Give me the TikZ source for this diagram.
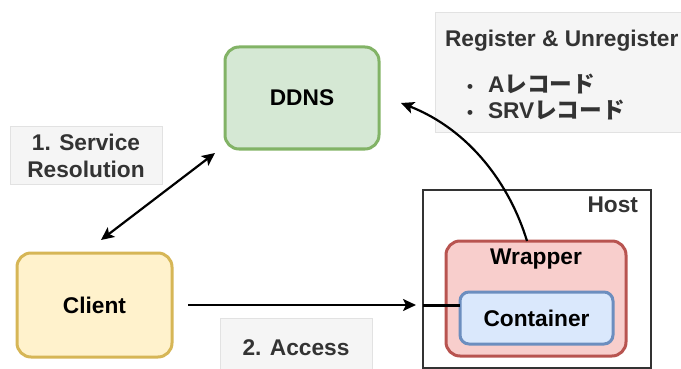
\documentclass[tikz,border=0pt]{standalone}
\usepackage{fontspec}
\setmainfont{Liberation Sans}
\newfontfamily\jpb{Noto Sans CJK JP Bold}
\usetikzlibrary{arrows.meta}

\definecolor{ddnsfill}{HTML}{D5E8D4}
\definecolor{ddnsline}{HTML}{82B366}
\definecolor{clientfill}{HTML}{FFF2CC}
\definecolor{clientline}{HTML}{D6B656}
\definecolor{wrapfill}{HTML}{F8CECC}
\definecolor{wrapline}{HTML}{B85450}
\definecolor{contfill}{HTML}{DAE8FC}
\definecolor{contline}{HTML}{6C8EBF}
\definecolor{notefill}{HTML}{F5F5F5}
\definecolor{noteline}{HTML}{E2E2E2}
\definecolor{notetext}{HTML}{333333}

\begin{document}
\begin{tikzpicture}[x=1pt, y=-1pt,
  every node/.style={inner sep=0pt, outer sep=0pt,
    font=\fontsize{22.7}{28}\selectfont\bfseries},
  box/.style={draw, line width=3pt, rounded corners=14pt},
  note/.style={fill=notefill, draw=noteline, line width=1pt},
  notetxt/.style={text=notetext, align=center},
  arr/.style={line width=2.2pt, -{Stealth[length=13pt, width=12pt, inset=3pt]}},
  darr/.style={line width=2.2pt, {Stealth[length=13pt, width=12pt, inset=3pt]}-{Stealth[length=13pt, width=12pt, inset=3pt]}}
]
\useasboundingbox (0,0) rectangle (681,369);

% grey note panels
\path[note] (10,127) rectangle (162,184);
\path[note] (220,318) rectangle (372,372);
\path[note] (435,13) rectangle (684,133);

\node[notetxt, anchor=base] (n1a) at (86,150) {1. Service};
\node[notetxt, anchor=base] (n1b) at (86,178) {Resolution};
\node[notetxt, anchor=base] (n2) at (296,355) {2. Access};
\node[notetxt, anchor=base west] (reg) at (445,47) {Register \& Unregister};
\node[notetxt, anchor=base west] (recA) at (467,93)
  {\makebox[21pt][l]{\fontsize{17}{17}\selectfont\textbullet}A{\jpb レコード}};
\node[notetxt, anchor=base west] (recS) at (467,119)
  {\makebox[21pt][l]{\fontsize{17}{17}\selectfont\textbullet}SRV{\jpb レコード}};

% host frame
\node[draw=black!80, line width=1.2pt, minimum width=228pt, minimum height=178pt]
  (host) at (537,279) {};
\node[text=notetext, anchor=base east] (hostlbl) at (638,212) {Host};

% main boxes
\node[box, draw=ddnsline, fill=ddnsfill, minimum width=154pt, minimum height=102pt]
  (ddns) at (302,98) {DDNS};
\node[box, draw=clientline, fill=clientfill, minimum width=155pt, minimum height=104pt]
  (client) at (94.5,305) {Client};
\node[box, draw=wrapline, fill=wrapfill, minimum width=180pt, minimum height=115pt]
  (wrapper) at (536,298.5) {};
\node[anchor=base] (wraplbl) at (536,264) {Wrapper};
\node[box, draw=contline, fill=contfill, rounded corners=9pt,
  minimum width=153pt, minimum height=52pt] (container) at (536.5,318) {Container};

% connector end points
\coordinate (srClient) at (101,240);
\coordinate (srDdns) at (215,153);
\coordinate (wtop) at (527,241);
\coordinate (ddnsTip) at (401,103);

% 1. service resolution
\draw[darr] (srClient) -- (srDdns);
% 2. access
\draw[arr, shorten <=16pt, shorten >=7pt] (client.east) -- (client.east -| host.west);
\draw[line width=3pt] (host.west |- client.east) -- (container.west |- client.east);
% register / unregister
\draw[arr] (wtop) .. controls (510,185) and (470,130) .. (ddnsTip);
\end{tikzpicture}
\end{document}
